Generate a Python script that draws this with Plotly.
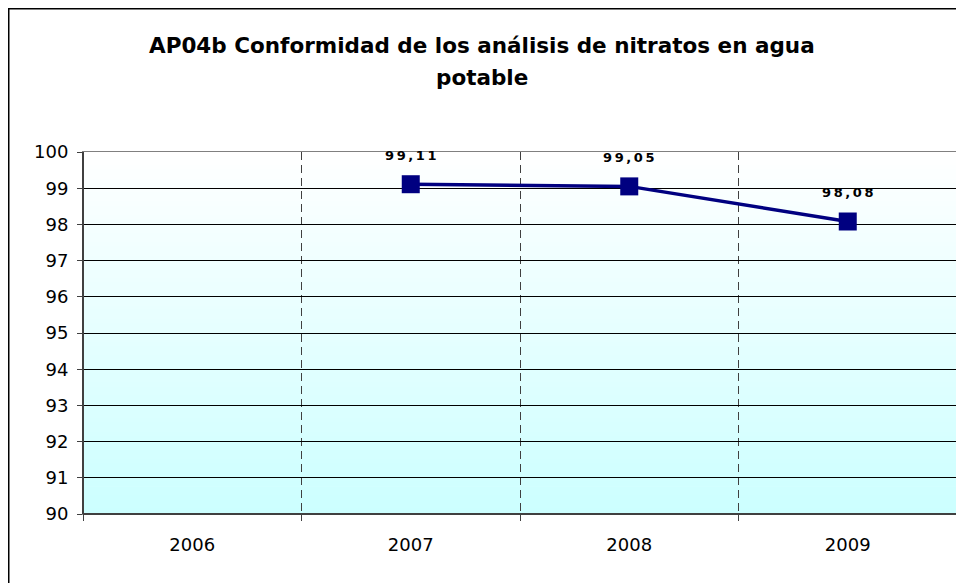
import plotly.graph_objects as go

# datos
years = ["2006", "2007", "2008", "2009"]
conformidad = [None, 99.11, 99.05, 98.08]
y_ticks = [90, 91, 92, 93, 94, 95, 96, 97, 98, 99, 100]

NAVY = "#000080"
FONT = "DejaVu Sans, Arial, sans-serif"

# la pagina tiene un margen de 8px en el body -> figura algo mas pequeña
W, H = 956, 575
L, R, T, B = 75, 7, 144, 69
PW, PH = W - L - R, H - T - B


def px(fx):
    return (fx - L) / PW


def py(fy):
    return (H - B - fy) / PH


fig = go.Figure()

fig.add_trace(go.Scatter(
    x=years, y=conformidad,
    mode="lines+markers",
    line=dict(color=NAVY, width=3.5),
    marker=dict(symbol="square", size=18, color=NAVY),
    showlegend=False,
    hoverinfo="x+y",
))

# etiquetas de datos (coma decimal, espaciado entre caracteres)
for i, v in enumerate(conformidad):
    if v is None:
        continue
    txt = "\u2009".join(f"{v:.2f}".replace(".", ","))
    fig.add_annotation(x=i, y=v, xref="x", yref="y", text=txt, showarrow=False,
                       yshift=29,
                       font=dict(family=FONT, size=13, color="black", weight="bold"))

# fondo degradado blanco -> cian claro
n = 80
shapes = []
for i in range(n):
    t = i / (n - 1)
    r = round(255 - (255 - 204) * t)
    shapes.append(dict(type="rect", xref="x domain", yref="y domain",
                       x0=0, x1=1, y0=1 - (i + 1) / n, y1=1 - i / n + 0.002,
                       fillcolor=f"rgb({r},255,255)", line=dict(width=0),
                       layer="below"))

# ejes izquierdo e inferior mas oscuros
shapes.append(dict(type="line", xref="x domain", yref="y domain",
                   x0=0, x1=0, y0=0, y1=1, line=dict(color="#404040", width=2)))
shapes.append(dict(type="line", xref="x domain", yref="y domain",
                   x0=0, x1=1, y0=0, y1=0, line=dict(color="#404040", width=2)))

# marco exterior
shapes.append(dict(type="rect", xref="paper", yref="paper",
                   x0=px(0.75), x1=px(W + 20), y0=py(H + 20), y1=py(0.75),
                   line=dict(color="black", width=1.5), fillcolor="rgba(0,0,0,0)"))

# titulo en dos lineas
fig.add_annotation(xref="paper", yref="paper", x=px(474), y=py(37),
                   text="AP04b Conformidad de los análisis de nitratos en agua",
                   showarrow=False, xanchor="center", yanchor="middle",
                   font=dict(family=FONT, size=21.5, color="black", weight="bold"))
fig.add_annotation(xref="paper", yref="paper", x=px(474), y=py(70),
                   text="potable", showarrow=False, xanchor="center", yanchor="middle",
                   font=dict(family=FONT, size=21.5, color="black", weight="bold"))

fig.update_layout(
    width=W, height=H,
    margin=dict(l=L, r=R, t=T, b=B),
    paper_bgcolor="white",
    plot_bgcolor="rgba(0,0,0,0)",
    shapes=shapes,
    font=dict(family=FONT, size=18, color="black"),
)

fig.update_xaxes(
    type="category", categoryorder="array", categoryarray=years,
    range=[-0.5, 3.5],
    tickson="boundaries", ticks="outside", ticklen=6, tickcolor="#404040",
    showgrid=True, gridcolor="#404040", griddash="8px,5px", gridwidth=1,
    showline=True, linecolor="#808080", linewidth=1, mirror=True,
    ticklabelstandoff=14,
    tickfont=dict(size=18, color="black"),
)

fig.update_yaxes(
    range=[90, 100], tickvals=y_ticks,
    ticks="outside", ticklen=5, tickcolor="#404040",
    showgrid=True, gridcolor="black", gridwidth=1,
    showline=True, linecolor="#808080", linewidth=1, mirror=True,
    zeroline=False, ticklabelstandoff=5,
    tickfont=dict(size=18, color="black"),
)

fig.write_html("out.html")
